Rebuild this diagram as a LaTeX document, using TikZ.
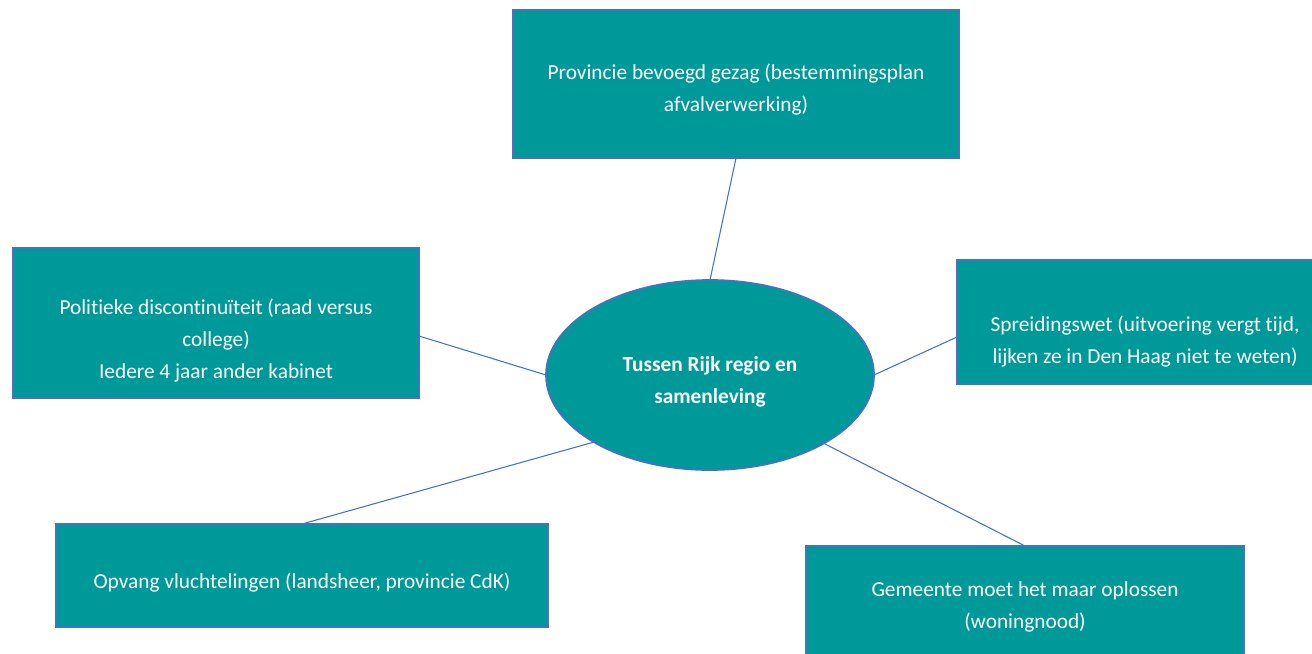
\documentclass[tikz,border=0pt]{standalone}
\usepackage{fontspec}
\setmainfont[Ligatures=NoCommon]{Carlito}
\usetikzlibrary{calc,shapes.geometric}
\definecolor{tealfill}{HTML}{009999}
\definecolor{edgeblue}{HTML}{4472C4}
\tikzset{
  box/.style={draw=edgeblue, line width=1.3pt, fill=tealfill, rectangle, inner sep=0pt, outer sep=0pt},
  hub/.style={draw=edgeblue, line width=1.3pt, fill=tealfill, ellipse, inner sep=0pt, outer sep=0pt,
              minimum width=246pt, minimum height=142.5pt},
  lbl/.style={text=white, align=center, font=\fontsize{16}{24}\selectfont, inner sep=0pt},
  hublbl/.style={text=white, align=center, font=\fontsize{16}{24}\selectfont\bfseries, inner sep=0pt},
  conn/.style={draw=edgeblue, line width=0.8pt}
}
\begin{document}
\begin{tikzpicture}[x=0.75pt,y=-0.75pt]
\useasboundingbox (0,0) rectangle (1312,653);
\clip (0,0) rectangle (1312,653);
\fill[white] (0,0) rectangle (1312,653);
% boxes
\node[box, minimum width=334.5pt, minimum height=111pt] (top) at (736,84) {};
\node[box, minimum width=304.5pt, minimum height=112.5pt] (left) at (216,323) {};
\node[box, minimum width=272.25pt, minimum height=93pt] (right) at (1138.5,322) {};
\node[box, minimum width=369pt, minimum height=77.25pt] (bl) at (302,575.5) {};
\node[box, minimum width=328.5pt, minimum height=112.5pt] (br) at (1025,621) {};
\node[hub] (c) at (710,375) {};
% labels
\node[lbl] (toptxt) at (736,90) {Provincie bevoegd gezag (bestemmingsplan\\afvalverwerking)};
\node[lbl] (lefttxt) at (216,341) {Politieke discontinu\"iteit (raad versus\\college)\\Iedere 4 jaar ander kabinet};
\node[lbl] (righttxt) at (1145,342) {Spreidingswet (uitvoering vergt tijd,\\lijken ze in Den Haag niet te weten)};
\node[lbl] (bltxt) at (302,583) {Opvang vluchtelingen (landsheer, provincie CdK)};
\node[lbl] (brtxt) at (1025,607) {Gemeente moet het maar oplossen\\(woningnood)};
\node[hublbl] (ctxt) at (710,382) {Tussen Rijk regio en\\samenleving};
% connectors
\draw[conn] (c.north) -- (top.south);
\draw[conn] (c.west) -- ($(left.east)+(0,13)$);
\draw[conn] (c.east) -- ($(right.west)+(0,15)$);
\draw[conn] (c.210.5) -- (bl.north);
\draw[conn] (c.329.5) -- (br.north);
\end{tikzpicture}
\end{document}
